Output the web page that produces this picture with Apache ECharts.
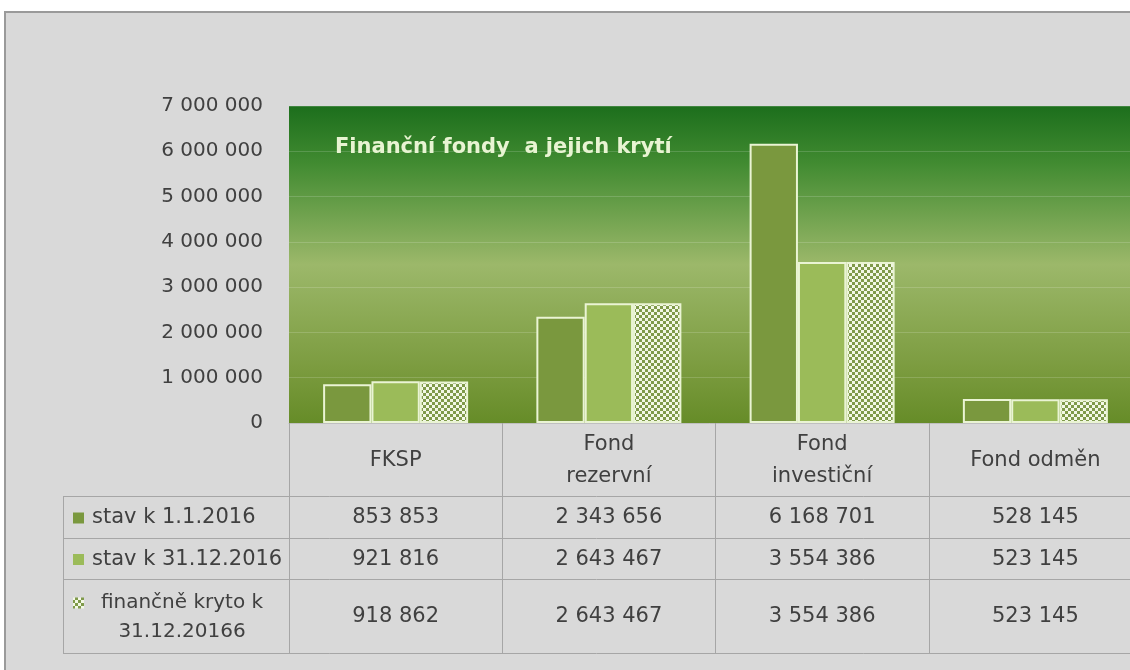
<!DOCTYPE html>
<html>

<head>
  <meta charset="UTF-8">
  <title>Finanční fondy a jejich krytí</title>
  <style>
    html, body {
      margin: 0;
      padding: 0;
      background: #fff;
    }
    #chart {
      width: 1130px;
      height: 670px;
    }
  </style>
  <script type="text/javascript" src="https://cdn.jsdelivr.net/npm/echarts@6/dist/echarts.min.js"></script>
</head>

<body>
  <div id="chart"></div>

  <script>
    // data
    var categories = ['FKSP', 'Fond rezervní', 'Fond investiční', 'Fond odměn'];
    var headerLabels = ['FKSP', 'Fond\nrezervní', 'Fond\ninvestiční', 'Fond odměn'];
    var seriesNames = ['stav k 1.1.2016', 'stav k 31.12.2016', 'finančně kryto k\n31.12.20166'];
    var stavStart = [853853, 2343656, 6168701, 528145];
    var stavEnd = [921816, 2643467, 3554386, 523145];
    var kryto = [918862, 2643467, 3554386, 523145];

    var FONT = '"DejaVu Sans", sans-serif';
    var TEXT = '#404040';
    var LINE = '#a6a6a6';

    function fmt(v) {
      return String(v).replace(/\B(?=(\d{3})+(?!\d))/g, ' ');
    }

    // checker pattern for the 3rd series
    function checker() {
      var c = document.createElement('canvas');
      c.width = 6;
      c.height = 6;
      var ctx = c.getContext('2d');
      ctx.fillStyle = '#f3f8e6';
      ctx.fillRect(0, 0, 6, 6);
      ctx.fillStyle = '#7f9a4a';
      ctx.fillRect(0, 0, 3, 3);
      ctx.fillRect(3, 3, 3, 3);
      return c;
    }
    var pattern = { image: checker(), repeat: 'repeat' };
    var colors = ['#7a983e', '#9bbb59', pattern];

    var chart = echarts.init(document.getElementById('chart'));

    var barStyle = function (i) {
      return {
        color: colors[i],
        borderColor: '#eaf4d4',
        borderWidth: 2
      };
    };

    var option = {
      backgroundColor: '#d9d9d9',
      animation: false,
      title: {
        text: 'Finanční fondy  a jejich krytí',
        left: 330,
        top: 132,
        textStyle: {
          fontFamily: FONT,
          fontSize: 21,
          fontWeight: 'bold',
          color: '#e8f4d2'
        }
      },
      grid: {
        left: 289,
        top: 106,
        width: 853,
        height: 317,
        outerBoundsMode: 'none',
        containLabel: false,
        show: true,
        borderWidth: 0,
        backgroundColor: new echarts.graphic.LinearGradient(0, 0, 0, 1, [
          { offset: 0, color: '#1c6e1c' },
          { offset: 0.18, color: '#418b31' },
          { offset: 0.5, color: '#9cb86a' },
          { offset: 0.82, color: '#7c9c40' },
          { offset: 1, color: '#668c28' }
        ])
      },
      xAxis: {
        type: 'category',
        data: categories,
        axisLine: { show: true, lineStyle: { color: '#bfbfbf', width: 1 } },
        axisTick: {
          show: true,
          interval: 0,
          alignWithLabel: false,
          length: 230,
          lineStyle: { color: LINE }
        },
        axisLabel: {
          interval: 0,
          margin: 38,
          verticalAlign: 'middle',
          lineHeight: 32,
          fontFamily: FONT,
          fontSize: 21,
          color: TEXT,
          formatter: function (v, i) { return headerLabels[i]; }
        }
      },
      yAxis: {
        type: 'value',
        min: 0,
        max: 7000000,
        interval: 1000000,
        axisLine: { show: false },
        axisTick: { show: false },
        splitLine: { lineStyle: { color: 'rgba(255,255,255,0.16)', width: 1 } },
        axisLabel: {
          margin: 26,
          fontFamily: FONT,
          fontSize: 20,
          color: TEXT,
          formatter: fmt
        }
      },
      series: [
        { name: seriesNames[0], type: 'bar', data: stavStart, barGap: '0%', barCategoryGap: '32%', itemStyle: barStyle(0) },
        { name: seriesNames[1], type: 'bar', data: stavEnd, itemStyle: barStyle(1) },
        { name: seriesNames[2], type: 'bar', data: kryto, itemStyle: barStyle(2) }
      ]
    };
    chart.setOption(option);

    // data table under the chart
    function buildTable() {
      var rows = [stavStart, stavEnd, kryto];
      var rowLines = [496, 538, 579, 653];
      var tLeft = 63, tRight = 1130;
      var g = [];
      // white frame outside the gray panel
      g.push({ type: 'rect', shape: { x: 0, y: 0, width: 1130, height: 11 }, style: { fill: '#fff' }, silent: true });
      g.push({ type: 'rect', shape: { x: 0, y: 0, width: 4, height: 670 }, style: { fill: '#fff' }, silent: true });
      g.push({ type: 'polyline', shape: { points: [[5, 670], [5, 12], [1130, 12]] }, style: { stroke: '#9a9a9a', lineWidth: 2, fill: null }, silent: true });

      rowLines.forEach(function (y) {
        g.push({ type: 'line', shape: { x1: tLeft, y1: y + 0.5, x2: tRight, y2: y + 0.5 }, style: { stroke: LINE, lineWidth: 1 }, silent: true });
      });
      g.push({ type: 'line', shape: { x1: tLeft + 0.5, y1: rowLines[0], x2: tLeft + 0.5, y2: rowLines[3] }, style: { stroke: LINE, lineWidth: 1 }, silent: true });

      rows.forEach(function (vals, r) {
        var yc = (rowLines[r] + rowLines[r + 1]) / 2 + 1;
        var keyY = r === 2 ? yc - 14 : yc;
        g.push({
          type: 'rect',
          shape: { x: 73, y: keyY - 5.5, width: 11, height: 11 },
          style: { fill: colors[r] },
          silent: true
        });
        if (r === 2) {
          g.push({ type: 'text', x: 182, y: yc, style: { text: seriesNames[r], fontFamily: FONT, fontSize: 20, lineHeight: 29, fill: TEXT, align: 'center', verticalAlign: 'middle' }, silent: true });
        } else {
          g.push({ type: 'text', x: 92, y: yc, style: { text: seriesNames[r], fontFamily: FONT, fontSize: 21, fill: TEXT, align: 'left', verticalAlign: 'middle' }, silent: true });
        }
        vals.forEach(function (v, i) {
          var x = chart.convertToPixel({ xAxisIndex: 0 }, i);
          g.push({ type: 'text', x: x, y: yc, style: { text: fmt(v), fontFamily: FONT, fontSize: 21, fill: TEXT, align: 'center', verticalAlign: 'middle' }, silent: true });
        });
      });
      chart.setOption({ graphic: g });
    }
    buildTable();
  </script>
</body>
</html>
